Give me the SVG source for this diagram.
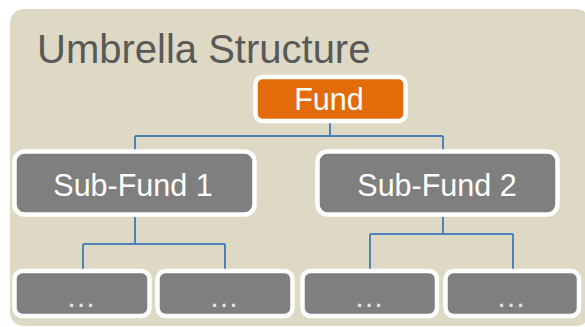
<svg xmlns="http://www.w3.org/2000/svg" width="585" height="327" viewBox="0 0 585 327">
<defs>
<style>
.bg{fill:#DDD9C4}
.title{font-family:"Liberation Sans",Arial,sans-serif;font-size:40px;fill:#595959}
.box{fill:#7F7F7F;stroke:#FFFFFF;stroke-width:4.5}
.fund{fill:#E36C0A;stroke:#FFFFFF;stroke-width:4.5}
.lbl{font-family:"Liberation Sans",Arial,sans-serif;font-size:30.5px;fill:#FFFFFF;text-anchor:middle}
.dots{font-family:"Liberation Sans",Arial,sans-serif;font-size:30px;fill:#E6E6E6;text-anchor:middle;letter-spacing:2px}
.conn{fill:none;stroke:#4F81BD;stroke-width:2}
</style>
</defs>
<rect class="bg" x="10" y="9" width="580" height="317" rx="14"/>
<text class="title" x="37" y="63">Umbrella Structure</text>
<g id="connectors">
<path class="conn" d="M330,123 V136 M135,136 H443 M135,136 V150 M443,136 V150"/>
<path class="conn" d="M135,217 V244 M83,244 H225 M83,244 V270 M225,244 V270"/>
<path class="conn" d="M443,217 V234 M370,234 H513 M370,234 V270 M513,234 V270"/>
</g>
<g id="fund">
<rect class="fund" x="255.5" y="77" width="150" height="44" rx="7"/>
<text class="lbl" x="329" y="110">Fund</text>
</g>
<g id="subfund1">
<rect class="box" x="14.5" y="151.5" width="240" height="63" rx="10"/>
<text class="lbl" x="133" y="196">Sub-Fund 1</text>
</g>
<g id="subfund2">
<rect class="box" x="317.5" y="151.5" width="240" height="63" rx="10"/>
<text class="lbl" x="437" y="196">Sub-Fund 2</text>
</g>
<g id="child1">
<rect class="box" x="14.5" y="271" width="135" height="45" rx="8"/>
<text class="dots" x="82" y="307">…</text>
</g>
<g id="child2">
<rect class="box" x="157.5" y="271" width="135" height="45" rx="8"/>
<text class="dots" x="225" y="307">…</text>
</g>
<g id="child3">
<rect class="box" x="302.5" y="271" width="134.5" height="45" rx="8"/>
<text class="dots" x="370" y="307">…</text>
</g>
<g id="child4">
<rect class="box" x="445.5" y="271" width="133.5" height="45" rx="8"/>
<text class="dots" x="512" y="307">…</text>
</g>
</svg>
